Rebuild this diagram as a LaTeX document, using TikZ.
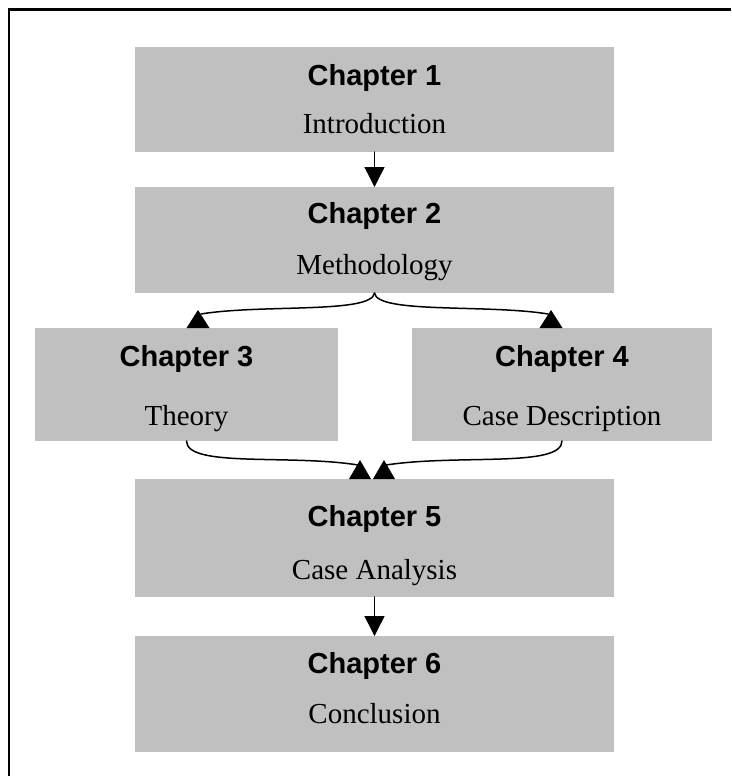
\documentclass[tikz,border=0pt]{standalone}
\usepackage{fontspec}
\setmainfont{Liberation Serif}
\newfontfamily\chapfont{Liberation Sans}
\usetikzlibrary{arrows.meta}
\definecolor{boxgray}{RGB}{192,192,192}
\begin{document}
\begin{tikzpicture}[x=1pt,y=-1pt,
  chapbox/.style={fill=boxgray, draw=none, inner sep=0pt, outer sep=0pt, anchor=north west},
  headtext/.style={anchor=base, inner sep=0pt, font=\chapfont\bfseries\fontsize{29}{30}\selectfont},
  subtext/.style={anchor=base, inner sep=0pt, font=\fontsize{29}{30}\selectfont},
  link/.style={line width=1.5pt, line cap=round},
  downtip/.style={-{Triangle[width=20pt,length=20pt]}},
  headfill/.style={fill=black},
  frameline/.style={line width=2.2pt},
]
\useasboundingbox (0,0) rectangle (731,776);

% open frame: top and left edges
\draw[frameline] (9,776) -- (9,9.5) -- (731,9.5);

% chapter boxes
\node[chapbox, minimum width=479pt, minimum height=105pt] (c1) at (135,47)  {};
\node[chapbox, minimum width=479pt, minimum height=106pt] (c2) at (135,187) {};
\node[chapbox, minimum width=303pt, minimum height=113pt] (c3) at (35,328)  {};
\node[chapbox, minimum width=300pt, minimum height=113pt] (c4) at (412,328) {};
\node[chapbox, minimum width=479pt, minimum height=118pt] (c5) at (135,479) {};
\node[chapbox, minimum width=479pt, minimum height=116pt] (c6) at (135,636) {};

% titles and subtitles
\node[headtext] (c1h) at (374.5,85)  {Chapter 1};
\node[subtext]  (c1s) at (374.5,133) {Introduction};
\node[headtext] (c2h) at (374.5,223) {Chapter 2};
\node[subtext]  (c2s) at (374.5,274) {Methodology};
\node[headtext] (c3h) at (186.5,366) {Chapter 3};
\node[subtext]  (c3s) at (186.5,425) {Theory};
\node[headtext] (c4h) at (562,366)   {Chapter 4};
\node[subtext]  (c4s) at (562,425)   {Case Description};
\node[headtext] (c5h) at (374.5,526) {Chapter 5};
\node[subtext]  (c5s) at (374.5,579) {Case Analysis};
\node[headtext] (c6h) at (374.5,673) {Chapter 6};
\node[subtext]  (c6s) at (374.5,723) {Conclusion};

% straight arrows
\draw[link, downtip] (c1.south) -- (c2.north);
\draw[link, downtip] (c5.south) -- (c6.north);

% heads of the curved connectors
\coordinate (t3) at (198,310);
\coordinate (t4) at (551,310);
\coordinate (t5a) at (360,460);
\coordinate (t5b) at (384,460);

% split from chapter 2 to chapters 3 and 4
\draw[link] (c2.south) .. controls (372,314) and (262,304) .. ([shift={(3,4)}]t3);
\draw[link] (c2.south) .. controls (377,314) and (487,304) .. ([shift={(-3,4)}]t4);

% merge from chapters 3 and 4 into chapter 5
\draw[link] (c3.south) .. controls (186.5,468) and (290,454) .. ([shift={(-2,5)}]t5a);
\draw[link] (c4.south) .. controls (562,468) and (458,454) .. ([shift={(2,5)}]t5b);

% triangular heads resting on the box tops
\fill[headfill] (t3) -- ++(-11.5,18) -- ++(23,0) -- cycle;
\fill[headfill] (t4) -- ++(-11.5,18) -- ++(23,0) -- cycle;
\fill[headfill] (t5a) -- ++(-11,19) -- ++(22,0) -- cycle;
\fill[headfill] (t5b) -- ++(-11,19) -- ++(22,0) -- cycle;
\end{tikzpicture}
\end{document}
